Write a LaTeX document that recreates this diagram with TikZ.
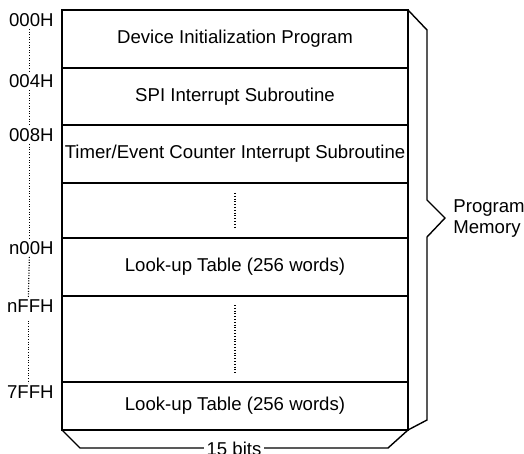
\documentclass[tikz,border=0pt]{standalone}
\usepackage{fontspec}
\setmainfont{Liberation Sans}
\usepackage{tikz}
\usetikzlibrary{positioning}

\begin{document}
\begin{tikzpicture}[x=0.5pt, y=-0.5pt, line join=miter,
  font=\fontsize{9.3}{10.5}\selectfont,
  cell/.style={draw, line width=0.7pt, minimum width=173pt, inner sep=0pt, outer sep=0pt},
  addr/.style={anchor=east, inner sep=1pt},
  addrdots/.style={line width=0.6pt, dash pattern=on 0.5pt off 0.8pt},
  middots/.style={line width=0.6pt, dash pattern=on 0.5pt off 0.9pt}]
\useasboundingbox (0,0) rectangle (524,454);
% Memory rows (top to bottom)
\node[cell, minimum height=29pt] (r1) at (235,39) {Device Initialization Program};
\node[cell, minimum height=28.5pt, below=0pt of r1] (r2) {SPI Interrupt Subroutine};
\node[cell, minimum height=29pt, below=0pt of r2] (r3) {Timer/Event Counter Interrupt Subroutine};
\node[cell, minimum height=27.5pt, below=0pt of r3] (r4) {};
\node[cell, minimum height=29pt, below=0pt of r4] (r5) {Look-up Table (256 words)};
\node[cell, minimum height=43pt, below=0pt of r5] (r6) {};
\node[cell, minimum height=24pt, below=0pt of r6] (r7) {Look-up Table (256 words)};
% Gaps inside the table
\draw[middots, shorten <=5pt, shorten >=5pt] (r4.north) -- (r4.south);
\draw[middots, shorten <=4.5pt, shorten >=4.5pt] (r6.north) -- (r6.south);
% Addresses
\node[addr] (a000) at (56,20) {000H};
\node[addr] (a004) at (56,81) {004H};
\node[addr] (a008) at (56,135) {008H};
\node[addr] (an00) at (56,248) {n00H};
\node[addr] (anFF) at (56,306) {nFFH};
\node[addr] (a7FF) at (56,392) {7FFH};
\draw[addrdots] ([xshift=-1pt]a000.south) -- ([xshift=-1pt]a004.north);
\draw[addrdots] ([xshift=-1pt]a004.south) -- ([xshift=-1pt]a008.north);
\draw[addrdots] ([xshift=-1pt]a008.south) -- ([xshift=-1pt]an00.north);
\draw[addrdots] ([xshift=-1pt]an00.south) -- ([xshift=-1pt]anFF.north);
\draw[addrdots, shorten <=3pt] ([xshift=-1pt]anFF.south) -- ([xshift=-1pt]a7FF.north);
% Right brace
\coordinate (tip) at (445,218);
\draw[line width=0.7pt] (r1.north east) -- (427,30) -- (427,200) -- (tip) -- (427,237) -- (427,420) -- (r7.south east);
\node[anchor=west, align=left, inner sep=0pt] (prog) at (453,219) {Program\\Memory};
% Bottom brace
\draw[line width=0.7pt] (r7.south west) -- (80,448) -- (388,448) -- (r7.south east);
\node[fill=white, inner sep=1.5pt] (bits) at (234,449) {15 bits};
\end{tikzpicture}
\end{document}
